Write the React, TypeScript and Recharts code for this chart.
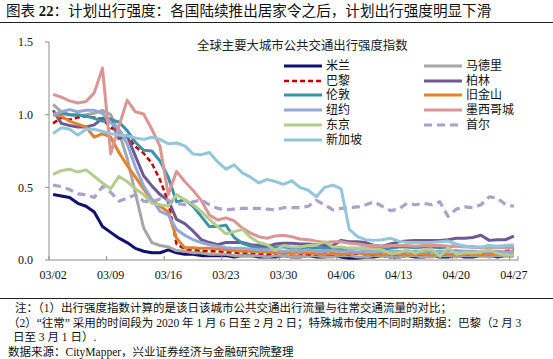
import { LineChart, Line, XAxis, YAxis } from 'recharts';

const dates = [
  '03/02', '03/03', '03/04', '03/05', '03/06', '03/07', '03/08', '03/09', '03/10', '03/11',
  '03/12', '03/13', '03/14', '03/15', '03/16', '03/17', '03/18', '03/19', '03/20', '03/21',
  '03/22', '03/23', '03/24', '03/25', '03/26', '03/27', '03/28', '03/29', '03/30', '03/31',
  '04/01', '04/02', '04/03', '04/04', '04/05', '04/06', '04/07', '04/08', '04/09', '04/10',
  '04/11', '04/12', '04/13', '04/14', '04/15', '04/16', '04/17', '04/18', '04/19', '04/20',
  '04/21', '04/22', '04/23', '04/24', '04/25', '04/26', '04/27',
];

const yTicks = [0, 0.5, 1.0, 1.5];

const milan = [
  0.45, 0.44, 0.43, 0.39, 0.37, 0.33, 0.23, 0.19, 0.15, 0.12, 0.08, 0.06, 0.05, 0.05,
  0.07, 0.05, 0.04, 0.04, 0.03, 0.03, 0.03, 0.03, 0.02, 0.03, 0.03, 0.02, 0.02, 0.02,
  0.03, 0.02, 0.02, 0.03, 0.02, 0.02, 0.03, 0.02, 0.01, 0.01, 0.02, 0.02, 0.03, 0.02,
  0.02, 0.03, 0.02, 0.02, 0.03, 0.02, 0.02, 0.03, 0.02, 0.02, 0.03, 0.03, 0.02, 0.03, 0.03,
];
const madrid = [
  1.07, 1.02, 1.0, 0.99, 1.0, 1.01, 1.03, 1.0, 0.88, 0.7, 0.46, 0.22, 0.12, 0.1,
  0.09, 0.065, 0.06, 0.05, 0.05, 0.04, 0.04, 0.04, 0.03, 0.03, 0.03, 0.03, 0.02, 0.03,
  0.03, 0.02, 0.02, 0.03, 0.03, 0.02, 0.02, 0.03, 0.03, 0.02, 0.02, 0.03, 0.03, 0.02,
  0.02, 0.03, 0.03, 0.02, 0.02, 0.03, 0.03, 0.02, 0.03, 0.03, 0.03, 0.02, 0.03, 0.03, 0.03,
];
const paris = [
  0.94, 0.98, 0.965, 0.98, 0.99, 0.98, 0.97, 0.91, 0.885, 0.85, 0.78, 0.735, 0.665, 0.55,
  0.4, 0.11, 0.075, 0.07, 0.065, 0.06, 0.06, 0.055, 0.05, 0.05, 0.05, 0.045, 0.04, 0.045,
  0.06, 0.05, 0.045, 0.04, 0.04, 0.045, 0.05, 0.04, 0.04, 0.045, 0.04, 0.035, 0.04, 0.04,
  0.035, 0.04, 0.04, 0.035, 0.04, 0.035, 0.04, 0.04, 0.035, 0.04, 0.04, 0.045, 0.04, 0.06, 0.07,
];
const berlin = [
  1.03, 0.94, 0.925, 0.915, 0.915, 0.93, 0.975, 0.97, 0.835, 0.855, 0.715, 0.58, 0.51, 0.45,
  0.41, 0.28, 0.25, 0.2, 0.14, 0.12, 0.105, 0.12, 0.12, 0.12, 0.105, 0.1, 0.09, 0.11,
  0.115, 0.115, 0.11, 0.11, 0.105, 0.1, 0.1, 0.135, 0.125, 0.125, 0.12, 0.1, 0.095, 0.11,
  0.125, 0.13, 0.135, 0.135, 0.135, 0.135, 0.14, 0.15, 0.15, 0.155, 0.17, 0.135, 0.14, 0.14, 0.165,
];
const london = [
  1.0, 1.01, 1.0, 1.0, 0.99, 0.975, 0.955, 0.965, 0.95, 0.89, 0.81, 0.755, 0.75, 0.68,
  0.57, 0.4, 0.415, 0.37, 0.3, 0.23, 0.23, 0.24, 0.155, 0.115, 0.095, 0.085, 0.075, 0.09,
  0.09, 0.085, 0.08, 0.08, 0.085, 0.08, 0.08, 0.075, 0.08, 0.08, 0.085, 0.08, 0.075, 0.08,
  0.09, 0.09, 0.085, 0.09, 0.09, 0.085, 0.09, 0.1, 0.095, 0.09, 0.085, 0.09, 0.09, 0.085, 0.09,
];
const sanFrancisco = [
  1.0, 0.99, 0.955, 0.935, 0.915, 0.845, 0.87, 0.845, 0.74, 0.65, 0.57, 0.49, 0.41, 0.37,
  0.33, 0.15, 0.085, 0.085, 0.08, 0.08, 0.075, 0.07, 0.065, 0.06, 0.06, 0.055, 0.055, 0.05,
  0.05, 0.045, 0.05, 0.05, 0.045, 0.04, 0.045, 0.04, 0.045, 0.05, 0.04, 0.04, 0.035, 0.04,
  0.04, 0.035, 0.04, 0.04, 0.035, 0.04, 0.04, 0.035, 0.04, 0.04, 0.035, 0.04, 0.04, 0.035, 0.04,
];
const newYork = [
  1.0, 1.02, 1.035, 1.02, 1.03, 1.03, 1.01, 0.945, 0.9, 0.8, 0.64, 0.51, 0.42, 0.335,
  0.31, 0.21, 0.17, 0.14, 0.12, 0.105, 0.095, 0.085, 0.08, 0.08, 0.075, 0.07, 0.07, 0.065,
  0.06, 0.065, 0.06, 0.07, 0.06, 0.06, 0.065, 0.06, 0.06, 0.055, 0.06, 0.06, 0.055, 0.06,
  0.06, 0.055, 0.06, 0.06, 0.055, 0.06, 0.06, 0.065, 0.06, 0.06, 0.055, 0.06, 0.06, 0.055, 0.06,
];
const mexicoCity = [
  1.14, 1.12, 1.095, 1.08, 1.09, 1.15, 1.32, 0.73, 0.92, 1.1, 1.02, 1.005, 0.9, 0.78,
  0.45, 0.61, 0.54, 0.48, 0.41, 0.31, 0.275, 0.29, 0.27, 0.22, 0.185, 0.16, 0.15, 0.165,
  0.17, 0.16, 0.145, 0.14, 0.13, 0.12, 0.125, 0.125, 0.115, 0.11, 0.1, 0.1, 0.095, 0.1,
  0.1, 0.1, 0.095, 0.1, 0.1, 0.1, 0.095, 0.095, 0.09, 0.09, 0.085, 0.085, 0.09, 0.085, 0.085,
];
const tokyo = [
  0.59, 0.615, 0.625, 0.605, 0.62, 0.575, 0.53, 0.49, 0.575, 0.54, 0.49, 0.45, 0.39, 0.38,
  0.37, 0.45, 0.415, 0.38, 0.335, 0.28, 0.23, 0.18, 0.195, 0.21, 0.155, 0.12, 0.105, 0.065,
  0.1, 0.09, 0.09, 0.1, 0.105, 0.125, 0.09, 0.09, 0.08, 0.08, 0.08, 0.075, 0.07, 0.045,
  0.05, 0.07, 0.045, 0.07, 0.075, 0.025, 0.085, 0.04, 0.05, 0.05, 0.055, 0.07, 0.045, 0.035, 0.035,
];
const seoul = [
  0.515, 0.505, 0.485, 0.455, 0.45, 0.43, 0.505, 0.465, 0.405, 0.425, 0.45, 0.405, 0.4, 0.42,
  0.41, 0.39, 0.38, 0.4, 0.415, 0.38, 0.355, 0.345, 0.35, 0.355, 0.355, 0.355, 0.35, 0.345,
  0.36, 0.36, 0.36, 0.37, 0.41, 0.38, 0.345, 0.355, 0.36, 0.365, 0.38, 0.4, 0.37, 0.34,
  0.35, 0.39, 0.38, 0.39, 0.38, 0.4, 0.3, 0.35, 0.365, 0.36, 0.38, 0.435, 0.425, 0.38, 0.37,
];
const singapore = [
  0.87, 0.91, 0.9, 0.86, 0.9, 0.9, 0.885, 0.87, 0.86, 0.855, 0.84, 0.83, 0.845, 0.83,
  0.8, 0.805, 0.785, 0.73, 0.725, 0.74, 0.675, 0.625, 0.655, 0.6, 0.57, 0.53, 0.555, 0.54,
  0.52, 0.545, 0.5, 0.48, 0.435, 0.5, 0.515, 0.49, 0.21, 0.16, 0.14, 0.135, 0.14, 0.15,
  0.13, 0.12, 0.12, 0.12, 0.12, 0.125, 0.13, 0.11, 0.095, 0.09, 0.09, 0.1, 0.095, 0.1, 0.105,
];

// legend order = draw order (row-wise in two columns)
const series = [
  { key: 'milan', name: '米兰', values: milan, color: '#10106e', width: 3, dash: undefined },
  { key: 'madrid', name: '马德里', values: madrid, color: '#a6a6a6', width: 3, dash: undefined },
  { key: 'paris', name: '巴黎', values: paris, color: '#c00000', width: 2.5, dash: '5 3' },
  { key: 'berlin', name: '柏林', values: berlin, color: '#6e5a93', width: 3, dash: undefined },
  { key: 'london', name: '伦敦', values: london, color: '#3b93a9', width: 3, dash: undefined },
  { key: 'sf', name: '旧金山', values: sanFrancisco, color: '#e2822f', width: 3, dash: undefined },
  { key: 'ny', name: '纽约', values: newYork, color: '#93a8d4', width: 3, dash: undefined },
  { key: 'mexico', name: '墨西哥城', values: mexicoCity, color: '#d99694', width: 3, dash: undefined },
  { key: 'tokyo', name: '东京', values: tokyo, color: '#b4cd8f', width: 3, dash: undefined },
  { key: 'seoul', name: '首尔', values: seoul, color: '#aea0c8', width: 3.2, dash: '8 5' },
  { key: 'singapore', name: '新加坡', values: singapore, color: '#93c6da', width: 3, dash: undefined },
];

const rows = dates.map((d, i) => {
  const row: Record<string, number | string> = { i, date: d };
  series.forEach(s => { row[s.key] = s.values[i]; });
  return row;
});

const W = 553;
const CHART_H = 300;
const PLOT_LEFT = 49;
const PLOT_RIGHT = 518;
const HALF_CAT = (PLOT_RIGHT - PLOT_LEFT) / dates.length / 2;
const AXIS = '#8c8c8c';
const SERIF = '"Liberation Serif", "Times New Roman", "Noto Sans CJK SC", serif';
const CJK = '"Liberation Serif", "Noto Sans CJK SC", serif';
// Liberation Sans first keeps the inline boxes short; the CJK glyphs fall back to Noto
const LEGEND_FONT = '"Liberation Sans", "Noto Sans CJK SC", sans-serif';

// tick marks sit on category boundaries, every 7 days
const xTicks = [-0.5, 6.5, 13.5, 20.5, 27.5, 34.5, 41.5, 48.5, 55.5, 56.5];

function XTick(props: any) {
  const { x, y, payload } = props;
  const idx = Math.round(payload.value + 0.5);
  return (
    <g>
      <line x1={x} x2={x} y1={y} y2={y - 4} stroke={AXIS} strokeWidth={1} />
      {idx < dates.length && (
        <text x={x + HALF_CAT} y={y + 19} textAnchor="middle" fontSize={12} fontFamily={SERIF} fill="#111">
          {dates[idx]}
        </text>
      )}
    </g>
  );
}

function LegendBox() {
  const cols = [series.filter((_, k) => k % 2 === 0), series.filter((_, k) => k % 2 === 1)];
  return (
    <div style={{ position: 'absolute', left: 283, top: 58.5, display: 'flex', fontFamily: LEGEND_FONT, fontSize: 12, color: '#111' }}>
      {cols.map((col, c) => (
        <div key={c} style={{ width: 140 }}>
          {col.map(s => (
            <div key={s.key} style={{ display: 'flex', alignItems: 'center', height: 14.8, whiteSpace: 'nowrap' }}>
              <svg width={40} height={8} style={{ marginRight: 3, flex: 'none' }}>
                <line x1={1} x2={39} y1={4} y2={4} stroke={s.color} strokeWidth={s.width} strokeDasharray={s.dash} />
              </svg>
              <span style={{ lineHeight: '14px' }}>{s.name}</span>
            </div>
          ))}
        </div>
      ))}
    </div>
  );
}

export default function App() {
  return (
    <div style={{ position: 'absolute', left: 0, top: 0, width: W, height: 359, background: '#fff', overflow: 'hidden' }}>
      <div style={{ position: 'absolute', left: 6, top: 2, fontFamily: CJK, fontSize: 14.6, lineHeight: '18px', color: '#111', whiteSpace: 'nowrap' }}>
        图表 <b>22</b>：计划出行强度：各国陆续推出居家令之后，计划出行强度明显下滑
      </div>
      <div style={{ position: 'absolute', left: 0, top: 22, width: W, height: 1.3, background: '#222' }} />

      <div style={{ position: 'absolute', left: 0, top: 0 }}>
        <LineChart width={W} height={CHART_H} data={rows} margin={{ top: 42, right: W - PLOT_RIGHT, bottom: 10, left: 0 }}>
          <XAxis
            dataKey="i"
            type="number"
            domain={[-0.5, 56.5]}
            ticks={xTicks}
            interval={0}
            height={30}
            stroke={AXIS}
            tickSize={0}
            tickMargin={0}
            tickLine={false}
            tick={<XTick />}
          />
          <YAxis
            type="number"
            domain={[0, 1.5]}
            ticks={yTicks}
            interval={0}
            width={PLOT_LEFT}
            stroke={AXIS}
            tickSize={4}
            tickMargin={12}
            tickFormatter={(v: number) => v.toFixed(1)}
            tick={{ fontSize: 12, fontFamily: SERIF, fill: '#111' }}
          />
          {series.map(s => (
            <Line
              key={s.key}
              dataKey={s.key}
              name={s.name}
              type="linear"
              stroke={s.color}
              strokeWidth={s.width}
              strokeDasharray={s.dash}
              strokeLinejoin="round"
              dot={false}
              activeDot={false}
              isAnimationActive={false}
            />
          ))}
        </LineChart>
      </div>

      <div style={{ position: 'absolute', left: 197, top: 37, fontFamily: '"Noto Sans CJK SC", sans-serif', fontSize: 12.4, lineHeight: '16px', color: '#222', whiteSpace: 'nowrap' }}>
        全球主要大城市公共交通出行强度指数
      </div>
      <LegendBox />

      <div style={{ position: 'absolute', left: 0, top: 298, width: W, height: 1.3, background: '#222' }} />
      <div style={{ position: 'absolute', left: 0, top: 301, width: W, fontFamily: CJK, fontSize: 11.5, lineHeight: '14.5px', color: '#111', whiteSpace: 'nowrap' }}>
        <div style={{ paddingLeft: 15 }}>注：（1）出行强度指数计算的是该日该城市公共交通出行流量与往常交通流量的对比；</div>
        <div style={{ paddingLeft: 8 }}>（2）“往常” 采用的时间段为 2020 年 1 月 6 日至 2 月 2 日；特殊城市使用不同时期数据：巴黎（2 月 3</div>
        <div style={{ paddingLeft: 13 }}>日至 3 月 1 日）.</div>
        <div style={{ paddingLeft: 8 }}>数据来源：CityMapper，兴业证券经济与金融研究院整理</div>
      </div>
    </div>
  );
}
